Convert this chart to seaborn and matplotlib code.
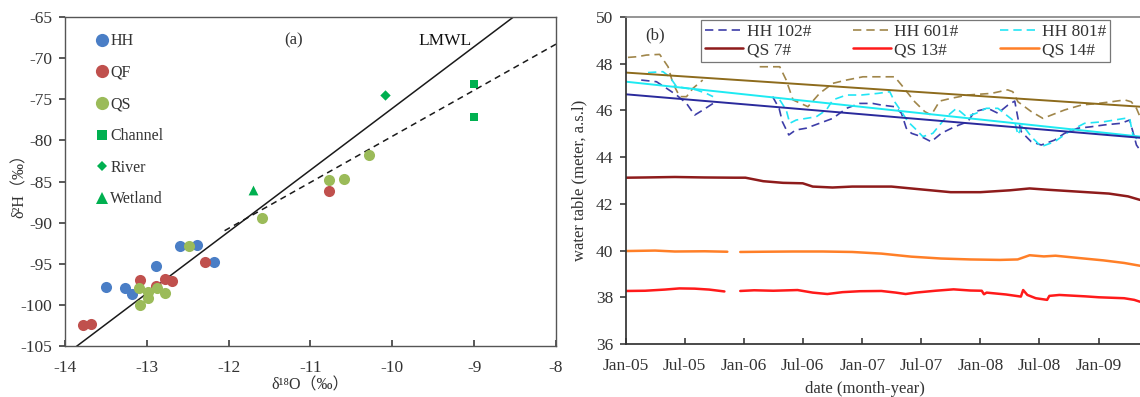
import numpy as np
import pandas as pd
import matplotlib
matplotlib.use("Agg")
import matplotlib.pyplot as plt
import matplotlib.dates as mdates
from matplotlib.lines import Line2D
import seaborn as sns

# ---------------- isotope samples (panel a) ----------------
hh_o18 = [-13.50, -13.27, -13.18, -12.89, -12.59, -12.39, -12.18]
hh_d2h = [-97.8, -97.9, -98.7, -95.3, -92.9, -92.7, -94.75]
qf_o18 = [-13.78, -13.68, -13.08, -12.89, -12.78, -12.69, -12.29, -10.78]
qf_d2h = [-102.4, -102.3, -97.0, -97.7, -96.8, -97.1, -94.75, -86.2]
qs_o18 = [-13.09, -13.08, -12.98, -12.98, -12.88, -12.78, -12.49, -11.59, -10.78, -10.59, -10.29]
qs_d2h = [-98.0, -100.0, -98.4, -99.2, -98.0, -98.5, -92.8, -89.4, -84.8, -84.7, -81.8]
channel_o18 = [-9.0, -9.0]
channel_d2h = [-73.2, -77.1]
river_o18 = [-10.09]
river_d2h = [-74.5]
wetland_o18 = [-11.70]
wetland_d2h = [-86.0]

# local meteoric water line and the evaporation line
lmwl_slope, lmwl_intercept = 7.5, -1.1
lmwl_range = [-14.0, -8.0]
evap_slope, evap_intercept = 5.6, -23.5
evap_range = [-12.05, -8.0]

# ---------------- groundwater levels (panel b) ----------------
nan = np.nan
hh102_dates = ["2005-02-17", "2005-04-05", "2005-05-06", "2005-06-06", "2005-07-07", "2005-08-01",
               "2005-08-27", "2005-09-27", "2005-12-15", "2006-03-30", "2006-04-19", "2006-04-29",
               "2006-05-19", "2006-06-09", "2006-07-12", "2006-08-22", "2006-10-02", "2006-11-13",
               "2006-12-24", "2007-02-02", "2007-03-01", "2007-04-11", "2007-05-02", "2007-05-17",
               "2007-06-02", "2007-07-02", "2007-08-02", "2007-09-02", "2007-10-13", "2007-11-23",
               "2007-12-14", "2008-01-24", "2008-02-24", "2008-03-26", "2008-04-16", "2008-04-26",
               "2008-05-06", "2008-06-06", "2008-07-07", "2008-08-17", "2008-09-17", "2008-10-28",
               "2008-12-08", "2009-01-18", "2009-03-11", "2009-04-06", "2009-04-16", "2009-04-27",
               "2009-05-08"]
hh102_level = [47.30, 47.23, 46.95, 46.66, 46.30, 45.80,
               46.02, 46.30, nan, 46.59, 46.09, 45.52,
               44.95, 45.16, 45.24, 45.45, 45.66, 46.09,
               46.30, 46.30, 46.23, 46.16, 45.88, 45.24,
               45.02, 44.88, 44.66, 45.02, 45.30, 45.52,
               45.95, 46.09, 45.88, 46.23, 46.40, 45.66,
               45.09, 44.66, 44.52, 44.73, 45.02, 45.24,
               45.30, 45.38, 45.45, 45.59, 45.09, 44.52,
               44.30]

hh601_dates = ["2005-01-07", "2005-02-05", "2005-03-05", "2005-04-15", "2005-05-11", "2005-05-26",
               "2005-06-16", "2005-07-07", "2005-07-27", "2005-08-26", "2005-11-30", "2006-02-18",
               "2006-04-21", "2006-05-11", "2006-06-01", "2006-07-17", "2006-08-22", "2006-10-02",
               "2006-11-13", "2007-01-03", "2007-03-01", "2007-04-11", "2007-05-02", "2007-06-12",
               "2007-07-13", "2007-08-02", "2007-08-28", "2007-10-03", "2007-11-23", "2008-02-04",
               "2008-03-25", "2008-04-10", "2008-04-26", "2008-06-06", "2008-07-12", "2008-08-07",
               "2008-09-17", "2008-11-08", "2008-12-29", "2009-02-08", "2009-03-22", "2009-04-11",
               "2009-04-27", "2009-05-08"]
hh601_level = [48.27, 48.30, 48.37, 48.40, 47.87, 47.16,
               46.59, 46.59, 46.95, 47.30, nan, 47.87,
               47.87, 47.30, 46.45, 46.16, 46.73, 47.16,
               47.30, 47.44, 47.44, 47.44, 47.09, 46.37,
               45.95, 45.80, 46.40, 46.52, 46.66, 46.73,
               46.88, 46.80, 46.37, 45.95, 45.66, 45.80,
               46.02, 46.23, 46.30, 46.37, 46.45, 46.37,
               46.09, 45.73]

hh801_dates = ["2005-03-10", "2005-04-25", "2005-05-16", "2005-06-06", "2005-07-07", "2005-08-06",
               "2005-09-06", "2005-09-27", "2005-12-15", "2006-04-21", "2006-05-11", "2006-05-22",
               "2006-06-11", "2006-07-12", "2006-08-12", "2006-09-12", "2006-10-02", "2006-11-13",
               "2006-12-29", "2007-02-18", "2007-03-27", "2007-04-11", "2007-05-02", "2007-05-22",
               "2007-06-12", "2007-07-07", "2007-08-07", "2007-09-18", "2007-10-19", "2007-11-19",
               "2007-12-19", "2008-01-19", "2008-02-24", "2008-04-16", "2008-04-26", "2008-05-10",
               "2008-06-06", "2008-07-07", "2008-08-17", "2008-10-08", "2008-11-18", "2009-01-18",
               "2009-03-22", "2009-04-06", "2009-04-16", "2009-05-08"]
hh801_level = [47.62, 47.66, 47.44, 47.02, 46.95, 46.88,
               46.73, 46.59, nan, 46.45, 46.02, 45.45,
               45.59, 45.66, 45.73, 46.02, 46.45, 46.66,
               46.66, 46.73, 46.80, 46.37, 45.95, 45.52,
               45.24, 44.88, 45.02, 45.73, 46.09, 45.73,
               45.88, 46.09, 46.09, 45.52, 44.95, 45.38,
               44.88, 44.45, 44.66, 45.16, 45.45, 45.52,
               45.66, 45.66, 44.95, 44.66]

qs7_dates = ["2005-01-01", "2005-03-01", "2005-06-01", "2005-09-01", "2005-12-01", "2006-01-05",
             "2006-03-01", "2006-05-01", "2006-07-01", "2006-08-01", "2006-10-01", "2006-12-01",
             "2007-04-01", "2007-07-01", "2007-10-01", "2008-01-01", "2008-04-01", "2008-06-01",
             "2008-08-01", "2008-11-01", "2009-02-01", "2009-04-01", "2009-05-08"]
qs7_level = [43.12, 43.13, 43.15, 43.13, 43.12, 43.12,
             42.97, 42.90, 42.88, 42.74, 42.70, 42.74,
             42.74, 42.62, 42.50, 42.50, 42.58, 42.66,
             42.60, 42.52, 42.44, 42.32, 42.17]

qs13_dates = ["2005-01-01", "2005-03-01", "2005-05-01", "2005-06-15", "2005-08-01", "2005-09-15",
              "2005-11-01", "2005-11-25", "2005-12-20", "2006-02-01", "2006-04-01", "2006-06-15",
              "2006-08-01", "2006-09-15", "2006-11-01", "2006-12-25", "2007-03-01", "2007-04-15",
              "2007-05-15", "2007-06-15", "2007-08-15", "2007-10-10", "2007-12-01", "2008-01-05",
              "2008-01-12", "2008-01-20", "2008-03-20", "2008-05-05", "2008-05-12", "2008-05-25",
              "2008-06-20", "2008-07-25", "2008-08-01", "2008-09-01", "2008-11-20", "2009-01-01",
              "2009-03-20", "2009-04-20", "2009-05-08"]
qs13_level = [38.27, 38.28, 38.33, 38.38, 38.37, 38.33,
              38.25, nan, 38.27, 38.30, 38.28, 38.31,
              38.20, 38.14, 38.22, 38.26, 38.27, 38.20,
              38.14, 38.20, 38.28, 38.34, 38.29, 38.28,
              38.13, 38.20, 38.12, 38.03, 38.31, 38.10,
              37.96, 37.89, 38.06, 38.10, 38.04, 38.00,
              37.96, 37.89, 37.81]

qs14_dates = ["2005-01-01", "2005-04-01", "2005-06-01", "2005-09-01", "2005-11-10", "2005-11-25",
              "2005-12-20", "2006-03-01", "2006-06-01", "2006-09-01", "2006-12-01", "2007-03-01",
              "2007-06-01", "2007-09-01", "2007-12-01", "2008-03-01", "2008-04-25", "2008-06-01",
              "2008-07-15", "2008-08-20", "2008-11-01", "2009-01-15", "2009-03-20", "2009-05-08"]
qs14_level = [39.98, 40.00, 39.96, 39.97, 39.95, nan,
              39.94, 39.95, 39.96, 39.96, 39.94, 39.87,
              39.74, 39.66, 39.62, 39.60, 39.62, 39.80,
              39.75, 39.78, 39.68, 39.58, 39.47, 39.35]

# linear trends of the HH wells
trend_dates = ["2005-01-01", "2009-05-08"]
hh102_trend = [46.69, 44.83]
hh601_trend = [47.62, 46.16]
hh801_trend = [47.23, 44.88]

x_ticks_b = ["2005-01-01", "2005-07-01", "2006-01-01", "2006-07-01", "2007-01-01",
             "2007-07-01", "2008-01-01", "2008-07-01", "2009-01-01"]

# ---------------- style ----------------
sns.set_theme(style="ticks")
plt.rcParams["font.family"] = ["Liberation Serif", "DejaVu Serif", "Noto Sans CJK SC"]
plt.rcParams["axes.unicode_minus"] = False
plt.rcParams["font.size"] = 11

TXT = "#333333"
TICK = 12.5
fig = plt.figure(figsize=(11.4, 3.97), dpi=100)
ax1 = fig.add_axes([65 / 1140, 1 - 346 / 397, 491 / 1140, 329 / 397])
ax2 = fig.add_axes([626 / 1140, 1 - 344 / 397, 514 / 1140, 327 / 397])

# ---------------- panel (a) ----------------
groups = [
    ("HH", hh_o18, hh_d2h, "#4A7EC6", "o", 64),
    ("QF", qf_o18, qf_d2h, "#C0504D", "o", 64),
    ("QS", qs_o18, qs_d2h, "#9BBB59", "o", 64),
    ("Channel", channel_o18, channel_d2h, "#00B050", "s", 38),
    ("River", river_o18, river_d2h, "#00B050", "D", 28),
    ("Wetland", wetland_o18, wetland_d2h, "#00B050", "^", 50),
]
iso = pd.concat([pd.DataFrame({"o18": o, "d2h": h, "site": name}) for name, o, h, *_ in groups],
                ignore_index=True)
for name, o, h, col, mk, sz in groups:
    sns.scatterplot(data=iso[iso.site == name], x="o18", y="d2h", color=col, marker=mk,
                    s=sz, linewidth=0, ax=ax1, legend=False, zorder=3)

lm = pd.DataFrame({"x": lmwl_range})
lm["y"] = lmwl_slope * lm["x"] + lmwl_intercept
sns.lineplot(data=lm, x="x", y="y", color="#1a1a1a", lw=1.1, ax=ax1, zorder=2)
ev = pd.DataFrame({"x": evap_range})
ev["y"] = evap_slope * ev["x"] + evap_intercept
sns.lineplot(data=ev, x="x", y="y", color="#1a1a1a", lw=1.1, ls=(0, (4, 3)), ax=ax1, zorder=2)

ax1.set_xlim(-14, -8)
ax1.set_ylim(-105, -65)
ax1.set_xticks([-14, -13, -12, -11, -10, -9, -8])
ax1.set_yticks(np.arange(-105, -64, 5))
ax1.tick_params(axis="x", direction="in", length=4, colors="#444444", labelcolor=TXT,
                labelsize=TICK, pad=10)
ax1.tick_params(axis="y", direction="out", length=4, colors="#444444", labelcolor=TXT,
                labelsize=TICK, pad=5)
for sp in ax1.spines.values():
    sp.set_color("#555555")
    sp.set_linewidth(1.0)
ax1.set_xlabel("δ¹⁸O（‰）", color=TXT, fontsize=11.5, labelpad=1)
ax1.set_ylabel("δ²H（‰）", color=TXT, fontsize=11.5)
ax1.yaxis.set_label_coords((28 - 65) / 491, 0.5)

handles_a = [Line2D([], [], ls="none", marker=mk, color=col, markeredgewidth=0,
                    markersize={"o": 9.5, "s": 7.5, "D": 5.5, "^": 8}[mk])
             for name, o, h, col, mk, sz in groups]
ax1.legend(handles_a, [g[0] for g in groups], loc="upper left", bbox_to_anchor=(0.045, 0.98),
           frameon=False, handlelength=0.7, handletextpad=0.15, labelspacing=0.98,
           fontsize=11.5, labelcolor=TXT, borderaxespad=0.2)
ax1.text(0.466, 0.930, "(a)", transform=ax1.transAxes, ha="center", va="center",
         fontsize=12, color=TXT)
ax1.text(0.774, 0.927, "LMWL", transform=ax1.transAxes, ha="center", va="center",
         fontsize=12.5, color="#111111")

# ---------------- panel (b) ----------------
def level_frame(dates, values):
    d = pd.DataFrame({"date": pd.to_datetime(dates), "level": values})
    d["seg"] = d["level"].isna().cumsum()
    return d.dropna()

series_b = [
    ("HH 102#", hh102_dates, hh102_level, "#3D3DA8", (0, (5, 3)), 1.2),
    ("HH 601#", hh601_dates, hh601_level, "#A0864A", (0, (5, 3)), 1.2),
    ("HH 801#", hh801_dates, hh801_level, "#22E5F5", (0, (5, 3)), 1.2),
    ("QS 7#", qs7_dates, qs7_level, "#8E1B1B", "-", 1.8),
    ("QS 13#", qs13_dates, qs13_level, "#FF1A1A", "-", 1.8),
    ("QS 14#", qs14_dates, qs14_level, "#FF7F27", "-", 1.8),
]
for name, dts, vals, col, ls, lw in series_b:
    sns.lineplot(data=level_frame(dts, vals), x="date", y="level", units="seg", estimator=None,
                 color=col, lw=lw, ls=ls, ax=ax2, legend=False)

trends = [(hh601_trend, "#8D6B1C"), (hh801_trend, "#1EEAF2"), (hh102_trend, "#2A2A9C")]
for vals, col in trends:
    sns.lineplot(data=pd.DataFrame({"date": pd.to_datetime(trend_dates), "level": vals}),
                 x="date", y="level", color=col, lw=1.4, ax=ax2, legend=False)

ax2.set_xlim(pd.Timestamp("2005-01-01"), pd.Timestamp("2009-05-08"))
ax2.set_ylim(36, 50)
ax2.set_yticks(np.arange(36, 51, 2))
ax2.set_xticks(pd.to_datetime(x_ticks_b))
ax2.xaxis.set_major_formatter(mdates.DateFormatter("%b-%y"))
ax2.tick_params(axis="x", direction="in", length=4, colors="#444444", labelcolor=TXT,
                labelsize=TICK, pad=10)
ax2.tick_params(axis="y", direction="out", length=4, colors="#444444", labelcolor=TXT,
                labelsize=TICK, pad=5)
ax2.spines["right"].set_visible(False)
ax2.spines["left"].set_color("#333333")
ax2.spines["bottom"].set_color("#333333")
ax2.spines["top"].set_color("#888888")
ax2.set_xlabel("date (month-year)", color=TXT, fontsize=12)
ax2.xaxis.set_label_coords((865 - 626) / 514, -0.112)
ax2.set_ylabel("water table (meter, a.s.l)", color=TXT, fontsize=12, labelpad=6)

order = [0, 3, 1, 4, 2, 5]
handles_b = [Line2D([], [], color=series_b[i][3], ls=series_b[i][4], lw=series_b[i][5]) for i in order]
leg = ax2.legend(handles_b, [series_b[i][0] for i in order], ncol=3, loc="upper left",
                 bbox_to_anchor=(0.146, 0.99), frameon=True, fancybox=False,
                 handlelength=2.2, handletextpad=0.2, columnspacing=2.4, labelspacing=0.12,
                 fontsize=12.5, labelcolor=TXT, borderpad=0.22, borderaxespad=0.0)
leg.get_frame().set_edgecolor("#555555")
leg.get_frame().set_linewidth(0.9)
ax2.text(0.056, 0.945, "(b)", transform=ax2.transAxes, ha="center", va="center",
         fontsize=12, color=TXT)

fig.savefig("out.png", dpi=100)
